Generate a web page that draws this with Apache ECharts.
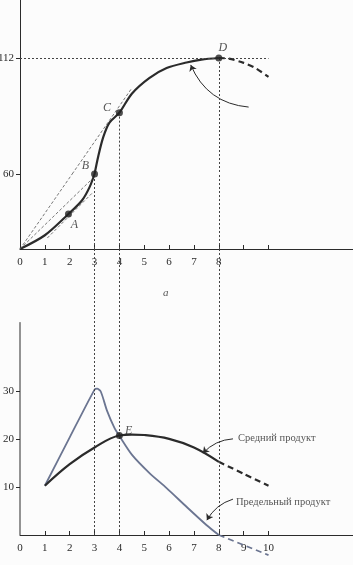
<!DOCTYPE html>
<html>
<head>
<meta charset="utf-8">
<script src="https://cdn.jsdelivr.net/npm/echarts@6/dist/echarts.min.js"></script>
<style>
  html, body { margin: 0; padding: 0; background: #fcfcfc; }
  #chart { width: 353px; height: 565px; }
</style>
</head>
<body>
<div id="chart"></div>
<script>
// ticks and labels
var xTicks = [1, 2, 3, 4, 5, 6, 7, 8, 9, 10];
var topXLabels = [0, 1, 2, 3, 4, 5, 6, 7, 8];
var bottomXLabels = [0, 1, 2, 3, 4, 5, 6, 7, 8, 9, 10];
var topYLabelHigh = [112];
var topYLabelLow = [60];
var bottomYLabels = [10, 20, 30];

// total product (the drawing squeezes 0..60 and 60..112 differently)
var outputLow = [[0, 0], [1, 11], [1.95, 28], [2.5, 39], [2.8, 49.5], [3, 60]];
var outputHigh = [[3, 60], [3.15, 68], [3.35, 76.5], [3.6, 83], [4, 87.5], [4.5, 96], [5.2, 103], [5.9, 107.5], [6.7, 110], [7.3, 111.3], [8, 112]];
var outputTail = [[8, 112], [8.4, 111.7], [9, 109.8], [9.5, 107.3], [10, 103.5]];
var rayCLow = [[0, 0], [2.1, 60]];
var rayCHigh = [[2.1, 60], [4.5, 98.5]];
var rayB = [[0, 0], [2.9, 56]];
var tangentA = [[1.1, 8.8], [2.95, 45.6]];
var pointA = [1.95, 28];
var pointB = [3, 60];
var pointC = [4, 87.5];
var pointD = [8, 112];

// average and marginal product
var avgProduct = [[1, 10.3], [2, 14.8], [3, 18.3], [4, 20.8], [4.5, 21], [5, 20.9], [6, 20.1], [7, 18.3], [8, 15.3]];
var avgTail = [[8, 15.3], [9, 12.8], [10, 10.3]];
var margProduct = [[1, 10.3], [2, 20.4], [3, 30.4], [3.1, 30.6], [3.25, 30], [3.5, 26], [3.8, 22.4], [4, 20.7], [4.5, 16.8], [5.2, 13], [5.9, 9.8], [6.7, 5.9], [7.5, 2.1], [8, 0]];
var margTail = [[8, 0], [9, -2.1], [10, -4.2]];
var pointE = [4, 20.8];

var chart = echarts.init(document.getElementById("chart"));
var ink = "#2b2b2b";
var font = "Liberation Serif";
var xMax = 13.4;

function xAxisFor(grid, show, labels) {
  return {
    type: "value", gridIndex: grid, min: 0, max: xMax, show: show,
    axisLine: { show: true, onZero: true, lineStyle: { color: ink, width: 1 } },
    axisTick: { show: true, inside: true, length: 4, customValues: xTicks, lineStyle: { color: ink } },
    axisLabel: { customValues: labels, margin: 8, color: ink, fontFamily: font, fontSize: 11 },
    splitLine: { show: false }
  };
}

function yAxisFor(grid, min, max, labels, lineShow) {
  return {
    type: "value", gridIndex: grid, min: min, max: max,
    axisLine: { show: lineShow, lineStyle: { color: ink, width: 1 } },
    axisTick: { show: true, length: 4, customValues: labels, lineStyle: { color: ink } },
    axisLabel: { customValues: labels, margin: 6, color: ink, fontFamily: font, fontSize: 11 },
    splitLine: { show: false }
  };
}

function line(grid, data, style) {
  return {
    type: "line", xAxisIndex: grid, yAxisIndex: grid, data: data,
    symbol: "none", smooth: style.smooth || false, clip: false,
    lineStyle: { color: style.color || ink, width: style.width || 1, type: style.type || "solid" },
    markLine: style.markLine, z: style.z || 2
  };
}

function dotted(data) {
  return { silent: true, symbol: "none", label: { show: false }, lineStyle: { color: "#444", width: 1, type: [2, 2] }, data: data };
}

function pointLabel(grid, value, text, pos, offset) {
  return {
    type: "scatter", xAxisIndex: grid, yAxisIndex: grid, data: [value],
    symbolSize: 7, itemStyle: { color: "#222" }, z: 5,
    label: { show: true, formatter: text, position: pos, offset: offset, color: ink, fontFamily: font, fontStyle: "italic", fontSize: 12 }
  };
}

function textAt(grid, value, text, size, italic) {
  return {
    type: "scatter", xAxisIndex: grid, yAxisIndex: grid, data: [value], symbolSize: 0, z: 5,
    label: { show: true, formatter: text, position: "right", distance: 0, color: ink, fontFamily: font, fontSize: size, fontStyle: italic ? "italic" : "normal" }
  };
}

function arrow(grid, from, to, curve) {
  return {
    type: "lines", coordinateSystem: "cartesian2d", xAxisIndex: grid, yAxisIndex: grid,
    symbol: ["none", "arrow"], symbolSize: 6,
    lineStyle: { color: ink, width: 1, curveness: curve, opacity: 1 },
    data: [{ coords: [from, to] }]
  };
}

chart.setOption({
  animation: false,
  backgroundColor: "#fcfcfc",
  grid: [
    { left: 20, right: 0, top: 0, height: 174, outerBoundsMode: "none" },
    { left: 20, right: 0, top: 174, height: 75, outerBoundsMode: "none" },
    { left: 20, right: 0, top: 248, height: 287, outerBoundsMode: "none" }
  ],
  xAxis: [xAxisFor(0, false, []), xAxisFor(1, true, topXLabels), xAxisFor(2, true, bottomXLabels)],
  yAxis: [yAxisFor(0, 60, 138, topYLabelHigh, true), yAxisFor(1, 0, 60, topYLabelLow, true), yAxisFor(2, 0, 60, bottomYLabels, false)],
  series: [
    // top panel
    line(1, outputLow, { width: 2.2, smooth: 0.3, markLine: dotted([{ xAxis: 3 }, { xAxis: 4 }, { xAxis: 8 }]) }),
    line(0, outputHigh, { width: 2.2, smooth: 0.3, markLine: dotted([
      [{ coord: [4, 87.5] }, { coord: [4, 60] }],
      [{ coord: [8, 112] }, { coord: [8, 60] }],
      [{ coord: [0, 112] }, { coord: [10, 112] }]
    ]) }),
    line(0, outputTail, { width: 2.2, smooth: 0.3, type: [6, 4] }),
    line(1, rayCLow, { width: 0.8, color: "#555", type: [3, 2] }),
    line(0, rayCHigh, { width: 0.8, color: "#555", type: [3, 2] }),
    line(1, rayB, { width: 0.8, color: "#555", type: [3, 2] }),
    line(1, tangentA, { width: 0.8, color: "#555", type: [3, 2] }),
    arrow(0, [9.2, 90], [6.87, 108.9], 0.3),
    pointLabel(1, pointA, "A", "bottom", [6, -4]),
    pointLabel(0, pointB, "B", "left", [3, -8]),
    pointLabel(0, pointC, "C", "left", [0, -5]),
    pointLabel(0, pointD, "D", "top", [4, 4]),
    // bottom panel
    line(2, [[0, 0], [0, 44.5]], { width: 1, markLine: dotted([{ xAxis: 3 }, { xAxis: 4 }, { xAxis: 8 }]) }),
    line(2, avgProduct, { width: 2.2, smooth: 0.4, z: 3 }),
    line(2, avgTail, { width: 2.2, smooth: 0.3, type: [6, 4], z: 3 }),
    line(2, margProduct, { width: 1.8, smooth: 0.25, color: "#6b7591" }),
    line(2, margTail, { width: 1.8, color: "#6b7591", type: [6, 4] }),
    arrow(2, [8.57, 20.1], [7.36, 17.1], -0.2),
    arrow(2, [8.57, 7.5], [7.52, 3.1], -0.2),
    pointLabel(2, pointE, "E", "right", [-3, -5]),
    textAt(2, [8.77, 20.3], "Средний продукт", 10.5, false),
    textAt(2, [8.69, 6.9], "Предельный продукт", 10.5, false),
    textAt(2, [5.75, 50.6], "a", 11, true)
  ]
});
</script>
</body>
</html>
